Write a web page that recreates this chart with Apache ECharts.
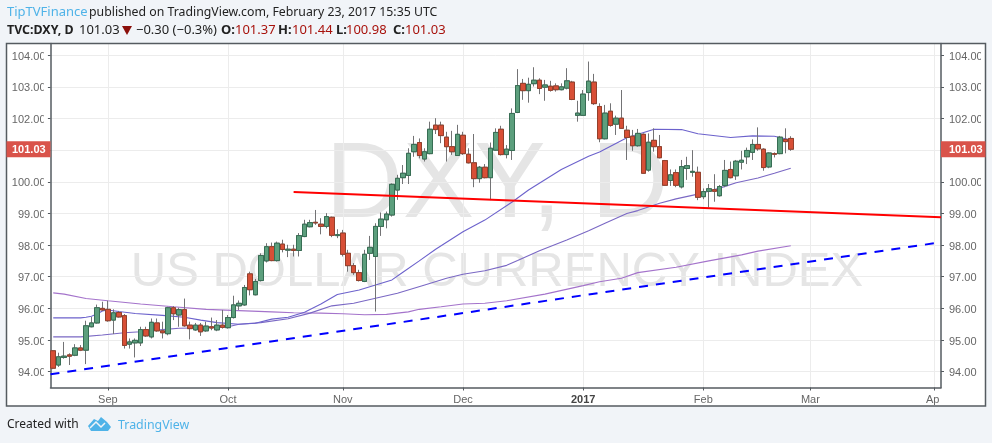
<!DOCTYPE html>
<html><head><meta charset="utf-8">
<style>html,body{margin:0;padding:0;background:#f1f4f8}#c{width:992px;height:443px}</style>
<script src="https://cdn.jsdelivr.net/npm/echarts@6/dist/echarts.min.js"></script>
</head><body><div id="c"></div>
<script>
const opens=[94.66,94.21,94.45,94.53,94.52,94.75,94.68,95.42,95.54,96.00,
95.97,95.63,95.87,95.77,94.87,94.91,94.91,95.33,95.10,95.54,
95.29,95.20,96.02,95.79,95.96,95.47,95.32,95.47,95.29,95.42,
95.32,95.47,95.39,95.71,96.08,96.11,97.09,96.43,96.88,97.50,
97.95,97.51,98.03,97.84,97.87,97.83,98.27,98.58,98.72,98.66,
98.59,98.88,98.30,98.38,97.74,97.35,97.13,96.85,97.74,97.64,
98.59,98.80,98.95,99.74,100.13,100.20,100.95,101.24,100.72,100.89,
101.79,101.79,101.41,101.11,100.83,101.47,100.87,100.60,100.10,100.46,
100.13,101.00,101.66,100.86,100.99,102.19,103.11,102.88,103.10,103.21,
102.99,103.02,103.03,102.91,102.96,103.15,102.10,102.10,102.82,103.15,
102.38,101.36,102.23,101.82,102.01,101.63,101.44,101.14,101.50,100.37,
101.31,101.11,100.67,100.04,100.29,99.84,100.42,100.30,100.30,99.53,
99.70,99.75,99.56,99.88,100.39,100.19,100.62,100.79,100.93,101.18,
101.03,100.47,100.89,100.89,101.34,101.37];
const closes=[94.11,94.47,94.49,94.49,94.75,94.68,95.45,95.54,96.02,95.95,
95.61,95.86,95.73,94.83,94.94,94.99,95.33,95.13,95.56,95.29,
95.23,96.02,95.83,95.96,95.45,95.36,95.47,95.26,95.44,95.38,
95.47,95.40,95.71,96.11,96.16,96.66,96.59,96.85,97.67,97.95,
97.51,98.06,97.86,97.87,97.83,98.30,98.66,98.71,98.70,98.59,
98.90,98.31,98.33,97.71,97.35,97.13,96.88,97.71,97.93,98.59,
98.82,98.98,99.92,100.11,100.27,100.90,101.18,100.83,100.95,101.66,
101.65,101.46,101.11,100.95,101.50,100.89,100.60,100.10,100.46,100.13,
101.06,101.56,100.86,101.03,102.16,103.04,102.88,103.08,103.21,102.95,
103.06,102.89,102.91,103.00,103.19,102.60,102.17,102.77,103.18,102.47,
101.36,102.17,101.78,102.01,101.69,101.40,101.14,101.53,100.27,101.25,
101.11,100.76,99.89,100.22,99.89,100.48,100.51,100.33,99.51,99.69,
99.78,99.70,99.85,100.36,100.13,100.65,100.68,100.99,101.18,101.04,
100.45,100.91,100.87,101.41,101.27,101.03];
const lows=[94.08,94.15,94.41,94.21,94.49,94.65,94.24,95.40,95.52,95.92,
95.58,95.19,95.71,94.73,94.73,94.45,94.81,95.10,95.05,95.26,
95.05,95.15,95.63,95.42,95.42,95.02,95.29,95.13,95.26,95.31,
95.28,95.36,95.36,95.68,95.95,96.08,96.41,96.41,96.85,97.45,
97.49,97.48,97.77,97.62,97.64,97.64,98.25,98.56,98.64,98.34,
98.53,98.25,98.22,97.64,97.16,97.06,96.85,96.83,97.53,95.90,
98.29,98.53,98.90,99.43,99.93,99.93,100.79,100.74,100.64,100.87,
101.51,101.22,100.64,100.85,100.82,100.85,100.58,99.83,99.97,100.11,
99.42,100.98,100.83,100.74,100.69,102.17,102.59,102.50,103.01,102.77,
102.56,102.85,102.85,102.89,102.92,102.58,101.90,102.08,102.56,102.43,
101.25,101.34,101.74,101.48,101.67,100.69,100.98,101.11,100.25,100.32,
100.95,100.74,99.87,99.87,99.83,99.79,100.06,100.16,99.42,99.45,
99.19,99.37,99.53,99.83,100.11,100.06,100.39,100.56,100.69,100.98,
100.35,100.43,100.77,100.87,100.90,100.98];
const highs=[94.67,94.60,94.94,94.58,94.87,94.84,95.61,95.73,96.12,96.21,
96.24,95.97,95.92,95.82,95.05,95.05,95.42,95.42,95.68,95.68,
95.58,96.05,96.07,96.02,96.31,95.58,95.54,95.54,95.58,95.71,
95.63,95.95,95.79,96.40,96.25,96.74,97.16,96.93,97.74,98.06,
98.08,98.11,98.17,98.01,98.01,98.38,98.80,98.80,99.11,98.85,
99.01,98.90,98.50,98.48,97.85,97.43,97.22,97.85,98.29,98.69,
99.03,99.06,99.95,100.22,100.53,101.06,101.45,101.37,101.06,101.90,
102.01,101.90,101.58,101.61,101.80,101.58,101.06,101.51,100.50,100.56,
101.24,101.69,101.77,101.16,102.32,103.56,103.25,103.29,103.62,103.27,
103.22,103.19,103.11,103.11,103.59,103.19,102.56,102.90,103.80,103.41,
102.48,102.43,102.48,102.09,102.90,101.77,101.64,101.67,101.53,101.53,
101.69,101.48,100.69,100.39,100.39,100.69,100.79,101.00,100.48,99.79,
99.93,100.24,99.90,100.69,100.64,100.69,100.98,101.08,101.34,101.72,
101.06,100.93,100.93,101.45,101.69,101.44];
const maFast=[[0,95.70],[5,95.70],[6,95.72],[7,95.75],[8,95.82],[9,95.92],[10,95.95],[12,95.90],[15,95.84],[20,95.78],[24,95.72],[27,95.63],[30,95.55],[34,95.50],[37,95.53],[40,95.66],[43,95.72],[46,95.88],[49,96.14],[52,96.44],[56,96.58],[59,96.74],[62,96.90],[64,97.14],[67,97.50],[70,97.87],[75,98.42],[79,98.79],[84,99.36],[87,99.74],[93,100.39],[98,100.81],[100,100.94],[105,101.39],[110,101.66],[115,101.65],[118,101.52],[124,101.40],[128,101.45],[132,101.44],[135,101.32]];
const maMid=[[0,95.10],[5,95.10],[9,95.16],[13,95.23],[16,95.26],[20,95.33],[23,95.37],[28,95.39],[32,95.42],[34,95.50],[38,95.55],[43,95.67],[47,95.85],[51,96.08],[55,96.16],[59,96.32],[63,96.48],[68,96.74],[72,96.95],[75,97.08],[79,97.19],[83,97.36],[85,97.51],[89,97.82],[94,98.16],[98,98.45],[101,98.69],[105,99.00],[107,99.09],[111,99.32],[114,99.46],[118,99.61],[122,99.80],[125,99.97],[129,100.12],[132,100.27],[135,100.43]];
const maSlow=[[0,96.49],[2,96.45],[6,96.31],[10,96.24],[16,96.14],[22,96.05],[28,95.97],[34,95.93],[40,95.89],[44,95.86],[49,95.85],[53,95.83],[57,95.80],[61,95.81],[65,95.89],[67,95.97],[71,96.05],[75,96.14],[79,96.16],[83,96.24],[90,96.45],[97,96.72],[100,96.84],[104,96.95],[107,97.13],[114,97.30],[120,97.50],[126,97.69],[129,97.81],[135,97.98]];
const resistance=[[44,99.68],[162.5,98.88]];
const support=[[-0.5,93.92],[162.5,98.09]];
const monthTicks=[10,32,53,75,97,119,138.6,161.3];
const monthLabels=['Sep','Oct','Nov','Dec','2017','Feb','Mar','Apr'];
const priceTicks=[94,95,96,97,98,99,100,101,102,103,104];
const lastClose=101.03;

const chart=echarts.init(document.getElementById('c'),null,{renderer:'canvas'});
const ohlc=opens.map((o,i)=>[i,o,closes[i],lows[i],highs[i]]);
const bodies=opens.map((o,i)=>[i,o,closes[i],Math.min(o,closes[i]),Math.max(o,closes[i])]);
const AX='#555b60',LBL='#666',GRID='#ececec',BLUE='#4fb3e8',DKRED='#a8120c',SANS='"Noto Sans"',ARIAL='"Liberation Sans"';
const priceAxis=(pos,margin,align,grid)=>({type:'value',position:pos,min:93.5,max:104.37,
  axisLine:{show:true,onZero:false,lineStyle:{color:AX,width:1.5}},
  axisTick:{show:true,length:3,lineStyle:{color:AX},customValues:priceTicks},
  axisLabel:{show:true,margin:margin,align:align,color:LBL,fontFamily:ARIAL,fontSize:11,
    formatter:v=>'{p|'+v.toFixed(2)+'}',customValues:priceTicks.filter(v=>v!==101),
    rich:{p:{color:LBL,fontFamily:ARIAL,fontSize:11,padding:[3,0,0,0]}}},
  splitLine:{show:grid,lineStyle:{color:GRID,width:1}}});
const line=(name,data,color)=>({name,type:'line',data,symbol:'none',z:3,silent:true,lineStyle:{color,width:1.1}});
const txt=(x,y,text,o)=>({type:'text',x,y,z:o&&o.z||20,silent:true,style:Object.assign({text,fill:'#222',font:'13px '+SANS,verticalAlign:'middle'},o&&o.style)});
const r=(x,y,w,h,fill,z,extra)=>({type:'rect',silent:true,z,shape:{x,y,width:w,height:h},style:Object.assign({fill},extra)});
const wm=(cx,cy,t,size)=>({type:'text',z:-1,silent:true,x:cx,y:cy,style:{text:t,fill:'#e5e5e5',font:size+'px '+ARIAL,align:'center',verticalAlign:'middle'}});
const b=(size)=>({style:{font:'bold '+(size||13)+'px '+SANS}});
const red={style:{fill:DKRED}};

chart.setOption({animation:false,backgroundColor:'#f1f4f8',
 grid:{left:50.5,right:51,top:43.5,bottom:55.5,containLabel:false},
 xAxis:{type:'value',min:-0.5,max:162.5,
  axisLine:{show:true,onZero:false,lineStyle:{color:AX,width:1.5}},
  axisTick:{show:true,length:3,lineStyle:{color:AX},customValues:monthTicks},
  axisLabel:{show:true,margin:6.5,color:LBL,fontFamily:ARIAL,fontSize:11,customValues:monthTicks,
    formatter:v=>{const i=monthTicks.indexOf(v);if(i<0)return '';const s=monthLabels[i];return /^\d+$/.test(s)?'{y|'+s+'}':s;},
    rich:{y:{color:'#444',fontFamily:ARIAL,fontSize:11,fontWeight:'bold'}}},
  splitLine:{show:true,lineStyle:{color:GRID,width:1}}},
 yAxis:[priceAxis('left',5,'right',true),priceAxis('right',8,'left',false)],
 series:[
  line('MA slow',maSlow,'#a473cb'),
  line('MA mid',maMid,'#7a68c4'),
  line('MA fast',maFast,'#6c62cc'),
  {name:'Wicks',type:'candlestick',data:ohlc,barWidth:5,encode:{x:0,y:[1,2,3,4]},z:4,silent:true,
   itemStyle:{color:'#737375',color0:'#737375',borderColor:'#737375',borderColor0:'#737375',borderWidth:1}},
  {name:'Bodies',type:'candlestick',data:bodies,barWidth:5,encode:{x:0,y:[1,2,3,4]},z:5,silent:true,
   itemStyle:{color:'#5c9f7d',color0:'#d84f36',borderColor:'#376e54',borderColor0:'#94402c',borderWidth:1}},
  {name:'Resistance',type:'line',data:resistance,symbol:'none',z:6,silent:true,lineStyle:{color:'#ff0000',width:2}},
  {name:'Support',type:'line',data:support,symbol:'none',z:6,silent:true,lineStyle:{color:'#0000ff',width:2,type:[9,8]}}
 ],
 graphic:[
  r(6.5,43.5,979,362.5,'#ffffff',-2),
  wm(497,187,'DXY, D',107),
  wm(497,272,'US DOLLAR CURRENCY INDEX',49),
  r(43.8,44.5,4,342,'#ffffff',10),
  r(981,44.5,4,342,'#ffffff',10),
  r(940,390,12,14,'#ffffff',10),
  r(6.5,43.5,979,362.5,'transparent',12,{stroke:'#555b60',lineWidth:1.5}),
  txt(7,12,'TipTVFinance',{style:{fill:BLUE}}),
  txt(89,12,'published on TradingView.com, February 23, 2017 15:35 UTC',{style:{font:'12.3px '+SANS}}),
  txt(7,30,'TVC:DXY, D',b(12.4)),
  txt(79,30,'101.03'),
  {type:'polygon',z:20,silent:true,shape:{points:[[122,26],[132,26],[127,35]]},style:{fill:'#8b0f0a'}},
  txt(136,30,'−0.30 (−0.3%)'),
  txt(221,30,'O:',b()),txt(235,30,'101.37',red),
  txt(278,30,'H:',b()),txt(292,30,'101.44',red),
  txt(336,30,'L:',b()),txt(346,30,'100.98',red),
  txt(393,30,'C:',b()),txt(405,30,'101.03',red),
  txt(7,425,'Created with',{style:{font:'12px '+SANS}}),
  {type:'polygon',z:20,silent:true,shape:{points:[[88,426],[94,419],[98,421],[101,417],[107,422],[111,427],[108,431],[91,431]]},style:{fill:BLUE}},
  {type:'polyline',z:21,silent:true,shape:{points:[[90,428],[96,422],[101,427],[105,423]]},style:{stroke:'#f1f4f8',lineWidth:1.5,fill:'none'}},
  txt(118,425,'TradingView',{style:{fill:BLUE,font:'12.4px '+SANS}})
 ]});
const tagY=chart.convertToPixel({yAxisIndex:0},lastClose);
const tag=(x,w)=>r(x,tagY-8,w,16,'#d9534a',13);
const label=(x)=>({type:'text',z:14,silent:true,x,y:tagY+0.5,style:{text:lastClose.toFixed(2),fill:'#fff',font:'bold 11px '+ARIAL,verticalAlign:'middle'}});
chart.setOption({graphic:[tag(6.5,44),tag(941,44.5),label(12),label(949)].map((g,i)=>Object.assign({id:'tag'+i},g))});
</script></body></html>
